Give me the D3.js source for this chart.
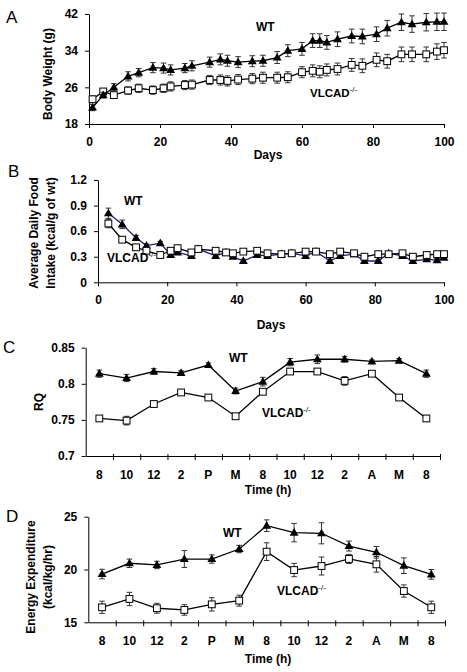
<!DOCTYPE html>
<html>
<head>
<meta charset="utf-8">
<script src="https://cdn.jsdelivr.net/npm/d3@7"></script>
<style>
html,body{margin:0;padding:0;background:#fff;}
svg{display:block;}
text{font-family:"Liberation Sans",Arial,sans-serif;}
</style>
</head>
<body>
<svg id="chart" width="467" height="672"></svg>
<script>
// ---------- DATA ----------
const daysA = [1,4,7,11,14,18,21,23,27,29,34,37,39,42,46,49,53,56,60,63,65,67,70,74,77,81,84,88,91,95,98,100];
const wtWeight = [21.6,24.3,26.0,28.4,29.2,30.3,30.2,29.8,30.2,30.7,31.5,32.1,31.8,31.5,31.7,31.8,32.5,34.0,34.4,36.2,36.2,35.8,36.5,37.2,37.1,37.6,38.9,40.2,39.8,40.2,40.3,40.3];
const wtWeightErr = [0.7,0.6,0.8,1.0,0.9,1.1,1.1,1.1,1.0,1.1,1.1,1.2,1.2,1.2,1.2,1.2,1.3,1.3,1.4,1.5,1.5,1.5,1.6,1.5,1.6,1.6,1.7,1.8,1.8,1.9,1.9,1.9];
const koWeight = [23.4,25.1,24.3,25.3,25.8,25.4,25.8,26.2,26.5,26.6,27.6,27.6,27.4,27.7,27.9,28.1,28.1,28.2,29.3,29.6,29.4,29.8,30.0,30.9,30.7,32.0,31.7,33.2,33.2,33.2,33.8,34.1];
const koWeightErr = [0.7,0.6,0.7,0.8,0.9,0.9,0.9,1.0,1.0,1.0,1.0,1.1,1.1,1.1,1.1,1.2,1.2,1.2,1.2,1.3,1.3,1.3,1.3,1.4,1.5,1.5,1.5,1.6,1.6,1.6,1.7,1.7];
const weightTicks = [18,26,34,42];
const dayTicks = [0,20,40,60,80,100];

const daysB = [3,7,11,14,18,21,23,27,29,34,37,39,42,46,49,53,56,60,63,67,70,74,77,81,84,88,91,95,98,100];
const wtFood = [0.81,0.68,0.52,0.43,0.46,0.32,0.35,0.31,0.39,0.31,0.35,0.30,0.25,0.32,0.31,0.33,0.34,0.31,0.36,0.25,0.31,0.33,0.25,0.25,0.34,0.31,0.25,0.27,0.26,0.29];
const wtFoodErr = [0.06,0.05,0.03,0.02,0.02,0.02,0.02,0.02,0.02,0.02,0.02,0.02,0.02,0.02,0.02,0.02,0.02,0.02,0.02,0.02,0.02,0.02,0.02,0.02,0.02,0.02,0.02,0.02,0.02,0.02];
const koFood = [0.69,0.50,0.41,0.37,0.32,0.37,0.40,0.35,0.39,0.37,0.35,0.34,0.36,0.37,0.34,0.33,0.34,0.36,0.36,0.33,0.36,0.34,0.30,0.33,0.33,0.34,0.30,0.32,0.33,0.33];
const koFoodErr = [0.05,0.03,0.02,0.02,0.02,0.02,0.02,0.02,0.02,0.02,0.02,0.02,0.02,0.02,0.02,0.02,0.02,0.02,0.02,0.02,0.02,0.02,0.02,0.02,0.02,0.02,0.02,0.02,0.02,0.02];
const foodTicks = [0,0.3,0.6,0.9,1.2];

const timeLabels = ["8","10","12","2","P","M","8","10","12","2","A","M","8"];
const wtRQ = [0.814,0.808,0.817,0.815,0.826,0.790,0.803,0.830,0.834,0.834,0.831,0.832,0.814];
const wtRQErr = [0.005,0.005,0.004,0.003,0.003,0.004,0.006,0.005,0.006,0.004,0.002,0.003,0.005];
const koRQ = [0.752,0.749,0.772,0.788,0.781,0.755,0.789,0.817,0.817,0.804,0.814,0.781,0.752];
const koRQErr = [0.004,0.006,0.002,0.002,0.002,0.002,0.003,0.004,0.003,0.006,0.002,0.003,0.004];
const rqTicks = [0.7,0.75,0.8,0.85];

const wtEE = [19.57,20.59,20.43,20.99,20.99,21.94,24.15,23.49,23.43,22.22,21.63,20.36,19.54];
const wtEEErr = [0.45,0.4,0.35,0.8,0.4,0.35,0.55,0.87,1.0,0.47,0.55,0.74,0.46];
const koEE = [16.42,17.21,16.33,16.17,16.70,17.05,21.69,19.95,20.33,21.0,20.49,17.96,16.42];
const koEEErr = [0.58,0.63,0.47,0.5,0.63,0.52,0.84,0.63,0.85,0.43,0.74,0.58,0.58];
const eeTicks = [15,20,25];

// ---------- DRAW ----------
const svg = d3.select("#chart");
const FONT = "Liberation Sans, Arial, sans-serif";

function styleAxis(g){
  g.selectAll("path.domain").attr("stroke","#000").attr("stroke-width",1);
  g.selectAll(".tick line").attr("stroke","#000").attr("stroke-width",1);
  g.selectAll(".tick text").attr("font-family",FONT).attr("font-size",12).attr("font-weight","bold").attr("fill","#000");
}

function triPath(s){ return d3.symbol().type(d3.symbolTriangle).size(s)(); }

function drawSeries(g, xs, ys, errs, xS, yS, kind, lineColor){
  const pts = xs.map((x,i)=>({x:xS(x), y:yS(ys[i]), lo:yS(ys[i]-errs[i]), hi:yS(ys[i]+errs[i])}));
  const eb = g.append("g");
  pts.forEach(p=>{
    eb.append("line").attr("x1",p.x).attr("x2",p.x).attr("y1",p.lo).attr("y2",p.hi).attr("stroke","#333").attr("stroke-width",1);
    eb.append("line").attr("x1",p.x-2.8).attr("x2",p.x+2.8).attr("y1",p.lo).attr("y2",p.lo).attr("stroke","#333").attr("stroke-width",1);
    eb.append("line").attr("x1",p.x-2.8).attr("x2",p.x+2.8).attr("y1",p.hi).attr("y2",p.hi).attr("stroke","#333").attr("stroke-width",1);
  });
  g.append("path").datum(pts)
    .attr("d", d3.line().x(d=>d.x).y(d=>d.y))
    .attr("fill","none").attr("stroke",lineColor).attr("stroke-width",1.3);
  if(kind==="tri"){
    g.append("g").selectAll("path").data(pts).join("path")
      .attr("d", triPath(34)).attr("transform",d=>`translate(${d.x},${d.y+0.5})`).attr("fill","#000");
  } else {
    g.append("g").selectAll("rect").data(pts).join("rect")
      .attr("x",d=>d.x-3.4).attr("y",d=>d.y-3.4).attr("width",6.8).attr("height",6.8)
      .attr("fill","#fff").attr("stroke","#000").attr("stroke-width",1);
  }
}

function label(x,y,txt,opts={}){
  const t = svg.append("text").attr("x",x).attr("y",y).attr("font-family",FONT)
    .attr("font-size",opts.size||12).attr("font-weight",opts.weight||"bold").attr("fill","#000")
    .attr("text-anchor",opts.anchor||"start");
  t.text(txt);
  return t;
}
function koLabel(x,y,size){
  const t = svg.append("text").attr("x",x).attr("y",y).attr("font-family",FONT)
    .attr("font-size",size||12).attr("font-weight","bold").attr("fill","#000");
  t.append("tspan").text("VLCAD");
  t.append("tspan").attr("font-size",8).attr("font-weight","normal").attr("dy",-5).text("-/-");
}
function yTitle(x,y,lines,dx){
  lines.forEach((ln,i)=>{
    svg.append("text").attr("transform",`translate(${x+i*(dx||0)},${y}) rotate(-90)`)
      .attr("text-anchor","middle").attr("font-family",FONT).attr("font-size",12)
      .attr("font-weight","bold").attr("fill","#000").text(ln);
  });
}

// ----- Panel A -----
{
  const x = d3.scaleLinear().domain([0,100]).range([89,444]);
  const y = d3.scaleLinear().domain([18,42]).range([124,14]);
  const g = svg.append("g");
  g.append("g").attr("transform","translate(0,124)")
    .call(d3.axisBottom(x).tickValues(dayTicks).tickSizeInner(4).tickSizeOuter(0).tickPadding(9))
    .call(styleAxis);
  g.append("g").attr("transform","translate(89,0)")
    .call(d3.axisLeft(y).tickValues(weightTicks).tickSizeInner(4).tickSizeOuter(0).tickPadding(7))
    .call(styleAxis);
  drawSeries(g, daysA, koWeight, koWeightErr, x, y, "sq", "#000");
  drawSeries(g, daysA, wtWeight, wtWeightErr, x, y, "tri", "#000");
  label(6,23,"A",{size:17,weight:"normal"});
  label(256,31,"WT");
  koLabel(310,97,11.5);
  label(268,159,"Days",{anchor:"middle"});
  yTitle(52,74,["Body Weight (g)"]);
}

// ----- Panel B -----
{
  const x = d3.scaleLinear().domain([0,100]).range([98,444]);
  const y = d3.scaleLinear().domain([0,1.2]).range([282.3,180]);
  const g = svg.append("g");
  g.append("g").attr("transform","translate(0,282.3)")
    .call(d3.axisBottom(x).tickValues(dayTicks).tickSizeInner(4).tickSizeOuter(0).tickPadding(9))
    .call(styleAxis);
  g.append("g").attr("transform","translate(98,0)")
    .call(d3.axisLeft(y).tickValues(foodTicks).tickFormat(d=>d===0?"0":d3.format(".1f")(d)).tickSizeInner(4).tickSizeOuter(0).tickPadding(7))
    .call(styleAxis);
  drawSeries(g, daysB, wtFood, wtFoodErr, x, y, "tri", "#1c1c78");
  drawSeries(g, daysB, koFood, koFoodErr, x, y, "sq", "#000");
  label(8,177,"B",{size:17,weight:"normal"});
  label(124,205,"WT");
  koLabel(107,262,12);
  label(271,329,"Days",{anchor:"middle"});
  yTitle(38,233,["Average Daily Food","Intake (kcal/g of wt)"],17);
}

// ----- Category panels -----
function catPanel(opt){
  const idx = d3.range(timeLabels.length);
  const band = d3.scaleBand().domain(idx).range([opt.x0,opt.x1]);
  const xc = i => band(i)+band.bandwidth()/2;
  const edge = d3.scaleLinear().domain([0,timeLabels.length]).range([opt.x0,opt.x1]);
  const y = d3.scaleLinear().domain(opt.ydom).range([opt.yb,opt.yt]);
  const g = svg.append("g");
  const ax = g.append("g").attr("transform",`translate(0,${opt.yb})`)
    .call(d3.axisBottom(edge).tickValues(d3.range(1,timeLabels.length+1)).tickFormat("").tickSizeInner(4).tickSizeOuter(0));
  styleAxis(ax);
  ax.selectAll(".tick line").attr("y1",-2);
  const lab = g.append("g").attr("transform",`translate(0,${opt.yb})`)
    .call(d3.axisBottom(band).tickFormat(i=>timeLabels[i]).tickSize(0).tickPadding(14));
  lab.select("path.domain").remove();
  styleAxis(lab);
  g.append("g").attr("transform",`translate(${opt.x0},0)`)
    .call(d3.axisLeft(y).tickValues(opt.ticks).tickFormat(opt.fmt).tickSizeInner(4).tickSizeOuter(0).tickPadding(7))
    .call(styleAxis);
  drawSeries(g, idx, opt.wt, opt.wtErr, xc, y, "tri", "#000");
  drawSeries(g, idx, opt.ko, opt.koErr, xc, y, "sq", "#000");
}

catPanel({x0:85.7,x1:440,yb:456,yt:347.7,ydom:[0.7,0.85],ticks:rqTicks,
  fmt:d=>d===0.8?"0.8":d===0.7?"0.7":d3.format(".2f")(d),
  wt:wtRQ,wtErr:wtRQErr,ko:koRQ,koErr:koRQErr});
label(3,353,"C",{size:17,weight:"normal"});
label(229,362,"WT");
koLabel(262,417,12);
label(268,494,"Time (h)",{anchor:"middle"});
yTitle(43,402,["RQ"]);

catPanel({x0:88.3,x1:445,yb:622.3,yt:516.7,ydom:[15,25],ticks:eeTicks,fmt:d3.format("d"),
  wt:wtEE,wtErr:wtEEErr,ko:koEE,koErr:koEEErr});
label(6,522,"D",{size:17,weight:"normal"});
label(223,537,"WT");
koLabel(277,595,12);
label(268,663,"Time (h)",{anchor:"middle"});
yTitle(35,577,["Energy Expenditure","(kcal/kg/hr)"],17);
</script>
</body>
</html>
